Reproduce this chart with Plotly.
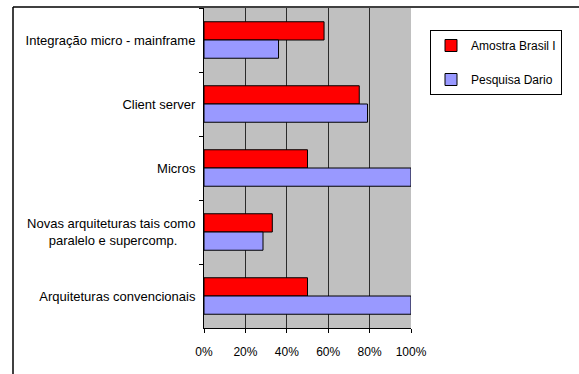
import plotly.graph_objects as go

# Categories listed top to bottom
categories = [
    "Integração micro - mainframe",
    "Client server",
    "Micros",
    "Novas arquiteturas tais como<br>paralelo e supercomp.&nbsp;&nbsp;&nbsp;&nbsp;&nbsp;",
    "Arquiteturas convencionais",
]
amostra_brasil = [0.58, 0.75, 0.50, 0.33, 0.50]
pesquisa_dario = [0.36, 0.79, 1.00, 0.285, 1.00]
x_ticks = [0, 0.2, 0.4, 0.6, 0.8, 1.0]
x_tick_labels = ["0%", "20%", "40%", "60%", "80%", "100%"]

FONT = "Liberation Sans, Arial, sans-serif"

fig = go.Figure()
fig.add_trace(go.Bar(
    y=categories, x=amostra_brasil, orientation="h", name="Amostra Brasil I",
    marker=dict(color="#FF0000", line=dict(color="#000000", width=1)),
    legendgroup="a",
))
fig.add_trace(go.Bar(
    y=categories, x=pesquisa_dario, orientation="h", name="Pesquisa Dario",
    marker=dict(color="#9999FF", line=dict(color="#000000", width=1)),
    legendgroup="b",
))

L, R, T, B = 204, 168, 8, 46
W, H = 579, 374
pw, ph = W - L - R, H - T - B

def px_x(p):
    return (p - L) / pw

def px_y(p):
    return (H - B - p) / ph

fig.update_layout(
    width=W, height=H,
    margin=dict(l=L, r=R, t=T, b=B, pad=0, autoexpand=False),
    paper_bgcolor="white",
    plot_bgcolor="#C0C0C0",
    barmode="group",
    bargap=0.43,
    bargroupgap=0,
    font=dict(family=FONT, size=12, color="black"),
    showlegend=True,
    legend=dict(
        x=px_x(430), y=px_y(30), xanchor="left", yanchor="top",
        bordercolor="#000000", borderwidth=1, bgcolor="white",
        traceorder="grouped", tracegroupgap=15,
        font=dict(family=FONT, size=12),
        itemwidth=30,
    ),
    xaxis=dict(
        range=[0, 1], tickvals=x_ticks, ticktext=x_tick_labels,
        showgrid=True, gridcolor="#2b2b2b", gridwidth=1,
        zeroline=False, showline=True, linecolor="#000000", linewidth=1,
        ticks="outside", ticklen=4, tickcolor="#000000",
        ticklabelstandoff=9,
        tickfont=dict(family=FONT, size=12),
        automargin=False, fixedrange=True,
    ),
    yaxis=dict(
        autorange="reversed",
        showline=True, linecolor="#000000", linewidth=1,
        ticks="outside", ticklen=4, tickcolor="#000000",
        tickson="boundaries",
        ticklabelstandoff=5,
        showgrid=False,
        tickfont=dict(family=FONT, size=13),
        automargin=False, fixedrange=True,
    ),
    shapes=[
        dict(type="line", xref="paper", yref="paper",
             x0=px_x(13), x1=px_x(W + 5), y0=px_y(7), y1=px_y(7),
             line=dict(color="#000000", width=1.5)),
        dict(type="line", xref="paper", yref="paper",
             x0=px_x(13), x1=px_x(13), y0=px_y(7), y1=px_y(H + 5),
             line=dict(color="#000000", width=1.5)),
    ],
)

fig.write_html("out.html")
